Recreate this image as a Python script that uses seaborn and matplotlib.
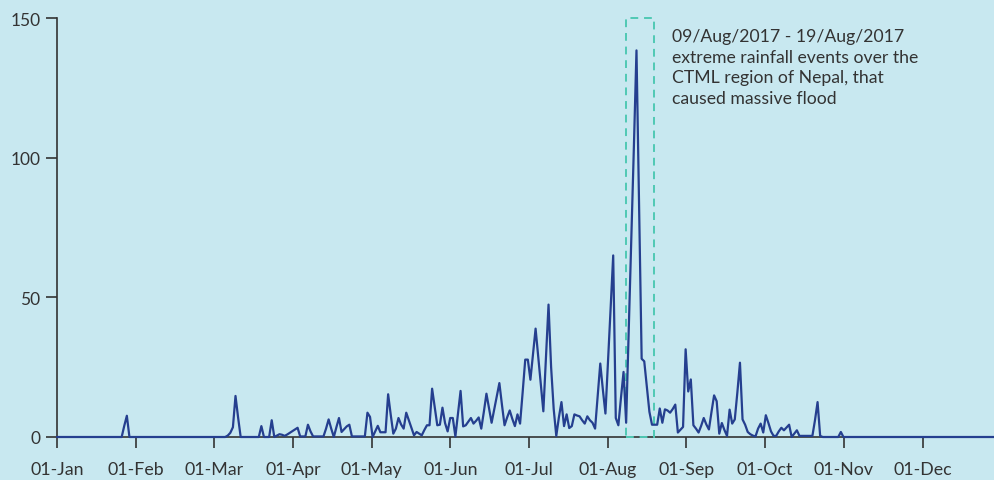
import numpy as np
import pandas as pd
import matplotlib
matplotlib.use("Agg")
import matplotlib.pyplot as plt
import seaborn as sns
from matplotlib.patches import Rectangle

# Daily rainfall (mm), 2017, one list per month
jan = [0, 0, 0, 0, 0, 0, 0, 0, 0, 0,
       0, 0, 0, 0, 0, 0, 0, 0, 0, 0,
       0, 0, 0, 0, 0, 0, 4.0, 7.6, 0, 0,
       0]
feb = [0, 0, 0, 0, 0, 0, 0, 0, 0, 0,
       0, 0, 0, 0, 0, 0, 0, 0, 0, 0,
       0, 0, 0, 0, 0, 0, 0, 0]
mar = [0, 0, 0, 0, 0, 0, 0, 0.5, 1.5, 3.5,
       14.7, 7.0, 0, 0, 0, 0, 0, 0, 0, 0,
       3.9, 0, 0, 0, 6.0, 0, 0.5, 1.0, 0.8, 0.4,
       0.9]
apr = [1.5, 2.1, 2.7, 3.3, 0.2, 0.2, 0.2, 4.4, 2.0, 0.2,
       0.2, 0.2, 0.2, 0.2, 3.0, 6.3, 3.0, 0, 3.5, 6.8,
       1.8, 2.8, 3.8, 4.4, 0.2, 0.2, 0.2, 0.2, 0.2, 0.2]
may = [8.7, 7.2, 0, 2.0, 4.0, 1.7, 1.7, 1.7, 15.3, 8.0,
       1.2, 3.0, 6.8, 4.5, 3.0, 8.7, 6.0, 3.2, 0.6, 1.8,
       1.2, 0.6, 2.5, 4.2, 4.2, 17.3, 10.7, 4.2, 4.4, 10.5,
       5.0]
jun = [2.0, 6.8, 6.8, 0.2, 8.3, 16.5, 3.8, 4.2, 5.5, 6.8,
       4.8, 5.8, 7.0, 3.0, 9.0, 15.5, 10.3, 5.1, 9.8, 14.5,
       19.3, 11.5, 4.2, 7.0, 9.5, 6.5, 3.9, 8.1, 4.8, 16.0]
jul = [27.7, 27.7, 20.5, 29.5, 38.8, 29.0, 19.0, 9.2, 28.0, 47.4,
       25.0, 10.0, 0.4, 7.0, 12.5, 3.9, 8.1, 3.2, 3.9, 8.1,
       7.7, 7.4, 6.0, 4.8, 7.4, 6.0, 5.1, 3.0, 14.6, 26.3,
       17.0]
aug = [8.4, 27.0, 46.0, 65.0, 6.8, 4.2, 14.0, 23.3, 5.1, 38.0,
       71.0, 104.0, 138.4, 83.0, 28.0, 27.1, 18.0, 9.0, 4.4, 4.4,
       4.4, 10.2, 5.1, 9.9, 9.5, 8.7, 10.0, 11.6, 1.6, 2.6,
       3.6]
sep = [31.4, 16.3, 20.6, 4.2, 3.0, 1.6, 4.0, 6.8, 4.5, 2.7,
       9.0, 14.9, 12.8, 1.2, 5.0, 2.5, 0.4, 9.8, 4.8, 6.3,
       16.0, 26.6, 6.3, 4.4, 1.8, 1.0, 0.5, 0.2, 3.0, 4.8]
oct_ = [1.6, 7.8, 5.0, 2.0, 0.4, 0.4, 2.0, 3.3, 2.4, 3.4,
        4.4, 0, 1.2, 2.4, 0.4, 0.4, 0.4, 0.4, 0.4, 0.4,
        6.0, 12.5, 0.4, 0, 0, 0, 0, 0, 0, 0,
        1.8]
nov = [0, 0, 0, 0, 0, 0, 0, 0, 0, 0,
       0, 0, 0, 0, 0, 0, 0, 0, 0, 0,
       0, 0, 0, 0, 0, 0, 0, 0, 0, 0]
dec = [0, 0, 0, 0, 0, 0, 0, 0, 0, 0,
       0, 0, 0, 0, 0, 0, 0, 0, 0, 0,
       0, 0, 0, 0, 0, 0, 0, 0, 0, 0,
       0]

month_labels = ["01-Jan", "01-Feb", "01-Mar", "01-Apr", "01-May", "01-Jun",
                "01-Jul", "01-Aug", "01-Sep", "01-Oct", "01-Nov", "01-Dec"]
y_ticks = [0, 50, 100, 150]

event_start = "2017-08-09"
event_end = "2017-08-19"
event_text = ("09/Aug/2017 - 19/Aug/2017\n"
              "extreme rainfall events over the\n"
              "CTML region of Nepal, that\n"
              "caused massive flood")

rain = jan + feb + mar + apr + may + jun + jul + aug + sep + oct_ + nov + dec
dates = pd.date_range("2017-01-01", periods=len(rain), freq="D")
df = pd.DataFrame({"day": (dates - dates[0]).days, "rain": rain})

BG = "#C8E8F0"
LINE = "#253F8F"
BOX = "#4FC9B4"
TXT = "#333333"

sns.set_theme(style="ticks")
plt.rcParams["font.family"] = ["Lato", "DejaVu Sans"]

fig = plt.figure(figsize=(9.94, 4.81), dpi=100)
fig.patch.set_facecolor(BG)
ax = fig.add_axes([57 / 994, 43 / 481, 1 - 57 / 994, (438 - 19) / 481])
ax.set_facecolor(BG)

sns.lineplot(data=df, x="day", y="rain", ax=ax, color=LINE, linewidth=1.6,
             clip_on=False, zorder=5)

# event window
s = (pd.Timestamp(event_start) - dates[0]).days - 0.1
e = (pd.Timestamp(event_end) - dates[0]).days + 0.8
ax.add_patch(Rectangle((s, 0), e - s, 150, fill=False, edgecolor=BOX,
                       linewidth=1.4, linestyle=(0, (4, 3)), clip_on=False,
                       zorder=4))
ax.text(237.7, 146.4, event_text, ha="left", va="top", fontsize=12.7,
        color=TXT, linespacing=1.36)

ax.set_xlim(0, 362.2)
ax.set_ylim(0, 150)
ax.set_xticks([i * 365 / 12 for i in range(12)])
ax.set_xticklabels(month_labels, fontsize=12.8)
ax.set_yticks(y_ticks)
ax.set_yticklabels([str(v) for v in y_ticks], fontsize=12.5)
ax.set_xlabel("")
ax.set_ylabel("")
ax.tick_params(axis="both", colors=TXT, length=8, width=1.2, labelcolor=TXT)
ax.tick_params(axis="x", pad=9.5)
ax.tick_params(axis="y", pad=4)
for side in ["top", "right"]:
    ax.spines[side].set_visible(False)
for side in ["left", "bottom"]:
    ax.spines[side].set_color(TXT)
    ax.spines[side].set_linewidth(1.2)

fig.savefig("out.png", dpi=100, facecolor=BG)
